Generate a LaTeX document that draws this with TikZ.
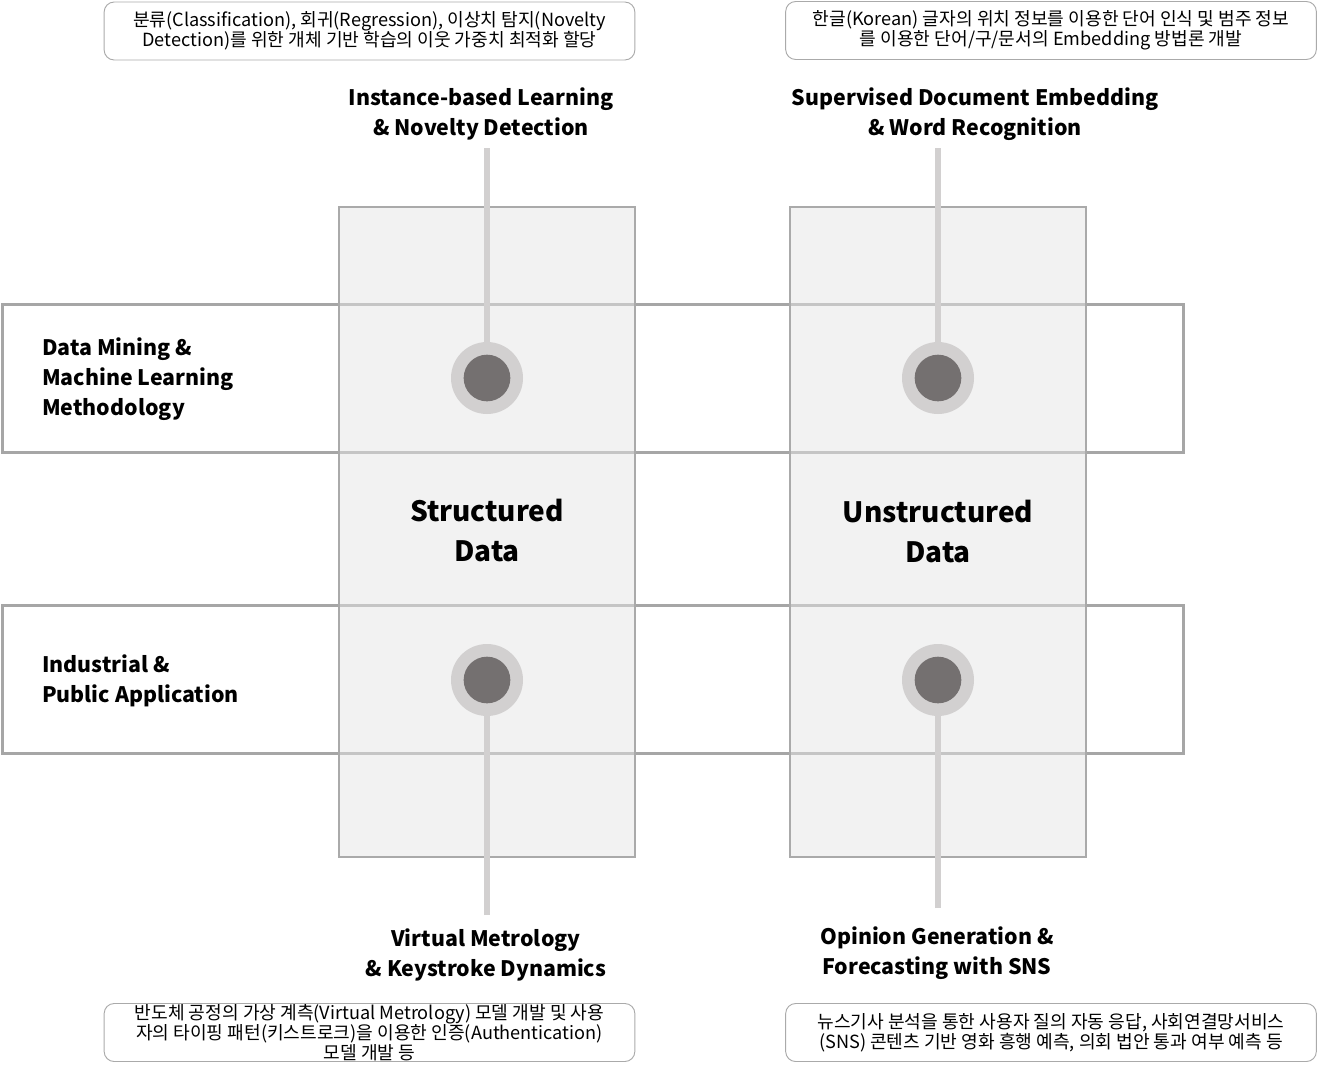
\documentclass[tikz,border=0pt]{standalone}
\usepackage{fontspec}
\setmainfont{Noto Sans CJK KR}
\definecolor{bandline}{HTML}{A6A6A6}
\definecolor{colline}{HTML}{AAAAAA}
\definecolor{colfill}{HTML}{E5E5E5}
\definecolor{stemc}{HTML}{D2D0D0}
\definecolor{dotc}{HTML}{747070}
\definecolor{boxline}{HTML}{AAAAAA}
\begin{document}
\begin{tikzpicture}[x=0.75pt,y=-0.75pt,
  band/.style={draw=bandline,line width=2.25pt},
  column/.style={draw=colline,line width=1.1pt,fill=colfill,fill opacity=0.5},
  stemline/.style={draw=stemc,line width=4.5pt},
  outerdot/.style={circle,fill=stemc,minimum size=54pt,inner sep=0pt},
  innerdot/.style={circle,fill=dotc,minimum size=35pt,inner sep=0pt},
  lab/.style={align=center,font=\fontsize{16}{22.5}\selectfont\bfseries,inner sep=0pt},
  sidelab/.style={align=left,anchor=west,font=\fontsize{16}{22.5}\selectfont\bfseries,inner sep=0pt},
  big/.style={align=center,font=\fontsize{21}{30}\selectfont\bfseries,inner sep=0pt},
  note/.style={draw=boxline,line width=0.7pt,rounded corners=7.5pt,align=center,
    minimum width=398pt,minimum height=43.5pt,inner sep=0pt,
    font=\fontsize{13.6}{15}\selectfont}
]
\useasboundingbox (0,0) rectangle (1317,1072);
% horizontal bands
\draw[band] (2,304) rectangle (1183,452);
\draw[band] (2,605) rectangle (1183,753);
% columns
\path[column] (339,207) rectangle (635,857);
\path[column] (790,207) rectangle (1086,857);
% stems and dots
\coordinate (c1) at (487,378);
\coordinate (c2) at (938,378);
\coordinate (c3) at (487,680);
\coordinate (c4) at (938,680);
\coordinate (t1) at (487,148);
\coordinate (t2) at (938,148);
\coordinate (t3) at (487,915);
\coordinate (t4) at (938,908);
\draw[stemline] (t1) -- (c1);
\draw[stemline] (t2) -- (c2);
\draw[stemline] (t3) -- (c3);
\draw[stemline] (t4) -- (c4);
\node[outerdot] (o1) at (c1) {};
\node[outerdot] (o2) at (c2) {};
\node[outerdot] (o3) at (c3) {};
\node[outerdot] (o4) at (c4) {};
\node[innerdot] (i1) at (c1) {};
\node[innerdot] (i2) at (c2) {};
\node[innerdot] (i3) at (c3) {};
\node[innerdot] (i4) at (c4) {};
% labels
\node[lab] (l1) at (481,114) {Instance-based Learning\\\& Novelty Detection};
\node[lab] (l2) at (975,114) {Supervised Document Embedding\\\& Word Recognition};
\node[lab] (l3) at (486,955) {Virtual Metrology\\\& Keystroke Dynamics};
\node[lab] (l4) at (937,953) {Opinion Generation \&\\Forecasting with SNS};
\node[sidelab] (s1) at (42,379) {Data Mining \&\\Machine Learning\\Methodology};
\node[sidelab] (s2) at (42,681) {Industrial \&\\Public Application};
\node[big] (b1) at (487,530) {Structured\\Data};
\node[big] (b2) at (938,531) {Unstructured\\Data};
% notes
\node[note] (n1) at (369.5,31) {분류(Classification), 회귀(Regression), 이상치 탐지(Novelty\\Detection)를 위한 개체 기반 학습의 이웃 가중치 최적화 할당};
\node[note] (n2) at (1051,30.5) {한글(Korean) 글자의 위치 정보를 이용한 단어 인식 및 범주 정보\\를 이용한 단어/구/문서의 Embedding 방법론 개발};
\node[note] (n3) at (369.5,1032.5) {반도체 공정의 가상 계측(Virtual Metrology) 모델 개발 및 사용\\자의 타이핑 패턴(키스트로크)을 이용한 인증(Authentication)\\모델 개발 등};
\node[note] (n4) at (1051,1032.5) {뉴스기사 분석을 통한 사용자 질의 자동 응답, 사회연결망서비스\\(SNS) 콘텐츠 기반 영화 흥행 예측, 의회 법안 통과 여부 예측 등};
\end{tikzpicture}
\end{document}
